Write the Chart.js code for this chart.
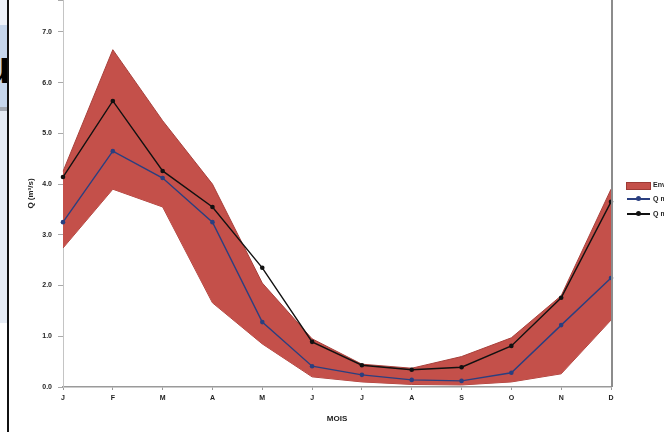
<!DOCTYPE html>
<html>
<head>
<meta charset="utf-8">
<script src="https://cdn.jsdelivr.net/npm/chart.js@4.4.1/dist/chart.umd.min.js"></script>
<style>
  html, body { margin: 0; padding: 0; width: 664px; height: 432px; overflow: hidden; background: #fff; }
  #wrap { position: relative; width: 664px; height: 432px; overflow: hidden; }
  canvas { position: absolute; left: 0; top: 0; }
  .panel { position: absolute; left: 0; width: 7px; }
  .lg { position: absolute; font: bold 7px "Liberation Sans", Arial, sans-serif; color: #222; white-space: nowrap; }
</style>
</head>
<body>
<div id="wrap">
  <canvas id="c" width="664" height="432"></canvas>
  <!-- window frame strip on the left -->
  <div class="panel" style="top:0;height:25px;background:#eef2f9;"></div>
  <div class="panel" style="top:25px;height:82px;background:#c6d6ec;overflow:hidden;">
    <span style="position:absolute;left:-17px;top:19px;font:bold 46px 'Liberation Sans',Arial,sans-serif;color:#000;line-height:46px;">u</span>
  </div>
  <div class="panel" style="top:107px;height:4px;background:#a3a9b2;"></div>
  <div class="panel" style="top:111px;height:212px;background:#e6ecf5;"></div>
  <div style="position:absolute;left:7px;top:0;width:2px;height:432px;background:#111;"></div>

  <!-- legend -->
  <div style="position:absolute;left:626px;top:182px;width:23px;height:6px;background:#c4504a;border:1px solid #9e3a35;"></div>
  <div class="lg" style="left:653px;top:181px;">Enveloppe</div>
  <div style="position:absolute;left:627px;top:198px;width:23px;height:2px;background:#2a3f80;"></div>
  <div style="position:absolute;left:636px;top:196px;width:5px;height:5px;border-radius:50%;background:#2a3f80;"></div>
  <div class="lg" style="left:653px;top:195px;">Q médian</div>
  <div style="position:absolute;left:627px;top:213px;width:23px;height:2px;background:#111;"></div>
  <div style="position:absolute;left:636px;top:211px;width:5px;height:5px;border-radius:50%;background:#111;"></div>
  <div class="lg" style="left:653px;top:210px;">Q moyen</div>
</div>
<script>
// Monthly discharge regime (m³/s)
const months = ['J', 'F', 'M', 'A', 'M', 'J', 'J', 'A', 'S', 'O', 'N', 'D'];
const envelopeMax = [4.25, 6.65, 5.25, 4.0, 2.05, 0.95, 0.45, 0.37, 0.6, 0.97, 1.8, 3.9];
const envelopeMin = [2.74, 3.9, 3.55, 1.66, 0.85, 0.2, 0.1, 0.05, 0.04, 0.1, 0.26, 1.32];
const qMedian = [3.25, 4.65, 4.12, 3.25, 1.28, 0.41, 0.24, 0.14, 0.12, 0.28, 1.22, 2.15];
const qMean = [4.14, 5.64, 4.26, 3.55, 2.35, 0.89, 0.43, 0.34, 0.39, 0.81, 1.76, 3.65];
const yTickValues = [0, 1, 2, 3, 4, 5, 6, 7];

const fontSmall = { family: 'Liberation Sans', size: 7, weight: 'bold' };

// right-hand border of the plot area
const plotBorder = {
  id: 'plotBorder',
  afterDraw(chart) {
    const { ctx, chartArea } = chart;
    ctx.save();
    ctx.strokeStyle = '#8c8c8c';
    ctx.lineWidth = 2;
    ctx.beginPath();
    ctx.moveTo(chartArea.right + 1, chartArea.top);
    ctx.lineTo(chartArea.right + 1, chartArea.bottom);
    ctx.stroke();
    ctx.restore();
  }
};

new Chart(document.getElementById('c'), {
  type: 'line',
  data: {
    labels: months,
    datasets: [
      {
        label: 'Enveloppe min',
        data: envelopeMin,
        borderColor: '#a8413c',
        borderWidth: 1,
        pointRadius: 0,
        fill: false,
        order: 3
      },
      {
        label: 'Enveloppe',
        data: envelopeMax,
        borderColor: '#a8413c',
        borderWidth: 1,
        backgroundColor: '#c4504a',
        pointRadius: 0,
        fill: '-1',
        order: 2
      },
      {
        label: 'Q médian',
        data: qMedian,
        borderColor: '#2a3f80',
        backgroundColor: '#2a3f80',
        borderWidth: 1.4,
        pointRadius: 2.3,
        pointBorderWidth: 0,
        fill: false,
        order: 1
      },
      {
        label: 'Q moyen',
        data: qMean,
        borderColor: '#111',
        backgroundColor: '#111',
        borderWidth: 1.4,
        pointRadius: 2.3,
        pointBorderWidth: 0,
        fill: false,
        order: 0
      }
    ]
  },
  options: {
    responsive: false,
    animation: false,
    layout: { padding: { left: 10, right: 53, top: 0, bottom: 0 }, autoPadding: false },
    plugins: { legend: { display: false }, tooltip: { enabled: false } },
    elements: { line: { tension: 0 } },
    scales: {
      x: {
        type: 'category',
        offset: false,
        grid: { display: true, drawOnChartArea: false, drawTicks: true, tickLength: 3, color: '#999' },
        border: { display: true, color: '#9a9a9a', width: 1.5 },
        ticks: { color: '#222', font: fontSmall, padding: 4, maxRotation: 0, autoSkip: false },
        title: { display: true, text: 'MOIS', color: '#222', font: { family: 'Liberation Sans', size: 8, weight: 'bold' }, padding: { top: 8, bottom: 8 } },
        afterFit(scale) { scale.height = 45; scale.paddingLeft = 0; scale.paddingRight = 0; }
      },
      y: {
        type: 'linear',
        min: 0,
        max: 7.63,
        grid: { display: true, drawOnChartArea: false, drawTicks: true, tickLength: 5, color: '#aaa' },
        border: { display: true, color: '#c4c4c4', width: 1 },
        ticks: {
          stepSize: 1,
          color: '#222',
          font: fontSmall,
          padding: 6,
          callback(v) { return yTickValues.includes(v) ? v.toFixed(1) : ''; }
        },
        title: { display: true, text: 'Q (m³/s)', color: '#222', font: { family: 'Liberation Sans', size: 8, weight: 'bold' }, padding: { top: 16, bottom: 0 } },
        afterFit(scale) { scale.width = 53; scale.paddingTop = 0; scale.paddingBottom = 0; }
      }
    }
  },
  plugins: [plotBorder]
});
</script>
</body>
</html>
